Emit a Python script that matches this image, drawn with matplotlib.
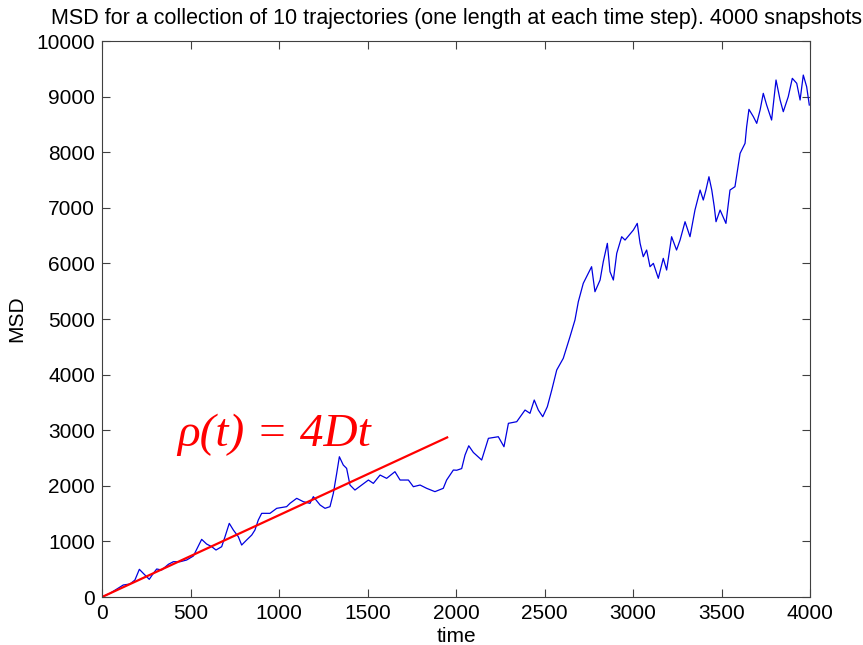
import matplotlib
matplotlib.use('Agg')
import matplotlib.pyplot as plt
import numpy as np

# MSD curve, sampled along the trajectory average
msd_time = [0, 45, 120, 158, 186, 211, 233, 267, 290, 309, 337, 375, 403, 441, 478,
            516, 563, 591, 620, 644, 676, 695, 719, 742, 770, 789, 817, 846, 864,
            883, 902, 949, 987, 1043, 1062, 1100, 1137, 1175, 1194, 1232, 1260,
            1288, 1307, 1326, 1341, 1363, 1382, 1401, 1429, 1467, 1505, 1533, 1571,
            1608, 1655, 1684, 1731, 1759, 1797, 1834, 1881, 1928, 1947, 1985, 2004,
            2032, 2051, 2072, 2098, 2145, 2183, 2239, 2271, 2296, 2343, 2390, 2418,
            2442, 2465, 2490, 2516, 2541, 2569, 2606, 2644, 2672, 2691, 2719, 2747,
            2766, 2785, 2814, 2832, 2855, 2870, 2889, 2908, 2936, 2955, 3002, 3024,
            3040, 3058, 3077, 3096, 3115, 3143, 3171, 3190, 3218, 3246, 3266, 3294,
            3322, 3350, 3379, 3397, 3412, 3429, 3445, 3459, 3469, 3492, 3525, 3548,
            3576, 3605, 3633, 3642, 3655, 3680, 3699, 3718, 3736, 3755, 3783, 3808,
            3831, 3849, 3877, 3900, 3925, 3944, 3962, 3981, 3996]
msd_values = [0, 66, 216, 234, 306, 498, 426, 318, 426, 504, 486, 588, 635, 635, 665,
              737, 1037, 953, 905, 845, 905, 1085, 1325, 1205, 1085, 935, 1025, 1115, 1205,
              1385, 1505, 1505, 1595, 1625, 1685, 1775, 1715, 1685, 1805, 1655, 1595,
              1625, 1865, 2225, 2523, 2374, 2314, 2014, 1924, 2014, 2104, 2044, 2194,
              2134, 2254, 2104, 2104, 1984, 2014, 1955, 1895, 1955, 2104, 2284, 2280,
              2310, 2554, 2720, 2600, 2464, 2854, 2883, 2703, 3124, 3153, 3363, 3304,
              3543, 3363, 3243, 3423, 3723, 4083, 4293, 4682, 4982, 5311, 5642, 5822,
              5941, 5491, 5701, 6031, 6361, 5851, 5701, 6181, 6480, 6420, 6600, 6720,
              6361, 6121, 6241, 5941, 6001, 5732, 6091, 5881, 6480, 6241, 6421, 6750,
              6480, 6960, 7320, 7140, 7320, 7559, 7320, 7020, 6750, 6960, 6720, 7320,
              7380, 7980, 8160, 8459, 8771, 8639, 8519, 8759, 9059, 8849, 8579, 9299,
              8939, 8729, 8998, 9329, 9239, 8939, 9388, 9178, 8849]

# linear fit rho(t) = 4Dt over the early part of the curve
diff_coef = 0.368
fit_time = np.array([0, 1950])
fit_values = 4 * diff_coef * fit_time

x_ticks = [0, 500, 1000, 1500, 2000, 2500, 3000, 3500, 4000]
y_ticks = [0, 1000, 2000, 3000, 4000, 5000, 6000, 7000, 8000, 9000, 10000]

plt.rcParams['font.family'] = ['Liberation Sans', 'DejaVu Sans']

fig = plt.figure(figsize=(8.63, 6.45), dpi=100)
ax = fig.add_axes([0.1182, 0.0744, 0.8204, 0.8620])

ax.plot(msd_time, msd_values, color='#0000e0', linewidth=0.9)
ax.plot(fit_time, fit_values, color='#ff0000', linewidth=1.6)

ax.text(424, 2716, 'ρ(t) = 4Dt', color='#ff0000', fontsize=34,
        family=['Liberation Serif', 'DejaVu Serif'], style='italic',
        ha='left', va='baseline')

ax.set_xlim(0, 4000)
ax.set_ylim(0, 10000)
ax.set_xticks(x_ticks)
ax.set_yticks(y_ticks)
ax.tick_params(direction='in', length=6, width=0.8, color='#404040',
               top=True, right=True, labelsize=15, pad=5)
for spine in ax.spines.values():
    spine.set_color('#404040')
    spine.set_linewidth(0.8)

ax.set_title('MSD for a collection of 10 trajectories (one length at each time step). 4000 snapshots',
             fontsize=15.5, pad=12)
ax.set_xlabel('time', fontsize=15, labelpad=3)
ax.set_ylabel('MSD', fontsize=15, labelpad=7)

fig.savefig('out.png', dpi=100)
